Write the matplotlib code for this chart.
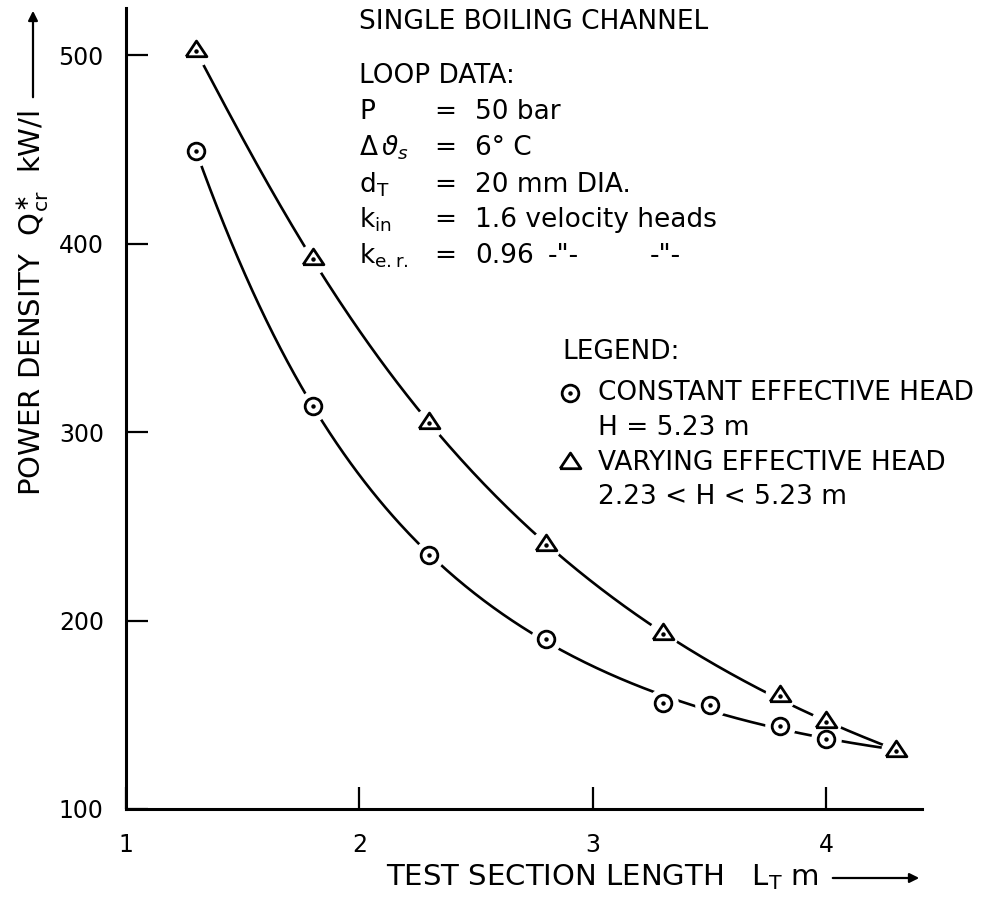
import numpy as np
import matplotlib
matplotlib.use('Agg')
from matplotlib import pyplot as plt

plt.rcParams['font.family'] = 'DejaVu Sans'
plt.rcParams['mathtext.fontset'] = 'dejavusans'

# data
circ_x = [1.3, 1.8, 2.3, 2.8, 3.3, 3.5, 3.8, 4.0]
circ_y = [449, 314, 235, 190, 156, 155, 144, 137]
tri_x = [1.3, 1.8, 2.3, 2.8, 3.3, 3.8, 4.0, 4.3]
tri_y = [502, 392, 305, 240, 193, 160, 146, 131]
x_ticks = [1, 2, 3, 4]
y_ticks = [100, 200, 300, 400, 500]

W, H = 982, 898


def px(x, y):
    return (x / W, 1 - y / H)


def smooth(xs, ys, n=300):
    # smooth hand-drawn style curve: fit in log-log space through the points
    lx = np.log(xs)
    c = np.polyfit(lx, np.log(ys), 3)
    xx = np.linspace(xs[0], xs[-1], n)
    return xx, np.exp(np.polyval(c, np.log(xx)))


fig = plt.figure(figsize=(9.82, 8.98), dpi=100)
ax = fig.add_axes([126 / W, 1 - 809 / H, 796 / W, 801 / H])

tri_shape = [(-1, -0.5), (1, -0.5), (0, 1), (-1, -0.5)]

# curves (circle curve ends on the last triangle point)
cx, cy = smooth(circ_x + [tri_x[-1]], circ_y + [tri_y[-1]])
ax.plot(cx, cy, color='black', lw=1.9, zorder=2)
tx, ty = smooth(tri_x, tri_y)
ax.plot(tx, ty, color='black', lw=1.9, zorder=2)

# white masks to break the lines at the markers
ax.plot(circ_x, circ_y, 'o', ms=21, color='white', zorder=3)
ax.plot(tri_x, tri_y, 'o', ms=21, color='white', zorder=3)

ax.plot(circ_x, circ_y, 'o', ms=12, mfc='white', mec='black', mew=2, zorder=4)
ax.plot(tri_x, tri_y, marker=tri_shape, ls='none', ms=15, mfc='white',
        mec='black', mew=2, zorder=4)
ax.plot(circ_x + tri_x, circ_y + tri_y, 'o', ms=2.2, color='black', zorder=5)

ax.set_xlim(1, 4.41)
ax.set_ylim(100, 525)
ax.set_xticks(x_ticks)
ax.set_yticks(y_ticks)
ax.tick_params(direction='in', length=16, width=1.6, labelsize=17)
ax.tick_params(axis='x', pad=17)
ax.tick_params(axis='y', pad=16)
for s in ['top', 'right']:
    ax.spines[s].set_visible(False)
for s in ['left', 'bottom']:
    ax.spines[s].set_linewidth(2.2)

fs = 19
# header and loop data
fig.text(*px(359, 22), 'SINGLE BOILING CHANNEL', fontsize=fs, va='center')
fig.text(*px(359, 76), 'LOOP DATA:', fontsize=fs, va='center')
names = ['P', r'$\Delta\,\vartheta_s$', r'$\mathrm{d_T}$', r'$\mathrm{k_{in}}$',
         r'$\mathrm{k_{e.r.}}$']
values = ['50 bar', '6° C', '20 mm DIA.', '1.6 velocity heads', '0.96']
rows_y = [112, 148, 185, 220, 256]
for nm, val, yy in zip(names, values, rows_y):
    fig.text(*px(359, yy), nm, fontsize=fs, va='center')
    fig.text(*px(445, yy), '=', fontsize=fs, va='center', ha='center')
    fig.text(*px(475, yy), val, fontsize=fs, va='center')
fig.text(*px(548, 256), '-"-', fontsize=fs, va='center')
fig.text(*px(650, 256), '-"-', fontsize=fs, va='center')

# legend block
fig.text(*px(562, 352), 'LEGEND:', fontsize=fs, va='center')
lx, ly = px(570, 393)
fig.lines.append(plt.Line2D([lx], [ly], marker='o', ms=12, mfc='white', mec='black',
                            mew=2, transform=fig.transFigure))
fig.lines.append(plt.Line2D([lx], [ly], marker='o', ms=2.2, color='black',
                            transform=fig.transFigure))
fig.text(*px(598, 393), 'CONSTANT EFFECTIVE HEAD', fontsize=fs, va='center')
fig.text(*px(598, 428), 'H = 5.23 m', fontsize=fs, va='center')
lx, ly = px(570, 463)
fig.lines.append(plt.Line2D([lx], [ly], marker=tri_shape, ms=15, mfc='white',
                            mec='black', mew=2, transform=fig.transFigure))
fig.text(*px(598, 463), 'VARYING EFFECTIVE HEAD', fontsize=fs, va='center')
fig.text(*px(598, 497), '2.23 < H < 5.23 m', fontsize=fs, va='center')

# axis labels with arrows
fig.text(*px(33, 110), r'POWER DENSITY  $\mathrm{Q^{\ast}_{cr}}$  kW/l', fontsize=21,
         rotation=90, ha='center', va='top')
fig.text(*px(386, 877), r'TEST SECTION LENGTH   $\mathrm{L_T}$ m', fontsize=21,
         va='center')
ax.annotate('', xy=px(33, 8), xytext=px(33, 100), xycoords='figure fraction',
            arrowprops=dict(arrowstyle='-|>', lw=1.6, color='black', mutation_scale=14))
ax.annotate('', xy=px(922, 878), xytext=px(830, 878), xycoords='figure fraction',
            arrowprops=dict(arrowstyle='-|>', lw=1.6, color='black', mutation_scale=14))

fig.savefig('out.png', dpi=100)
